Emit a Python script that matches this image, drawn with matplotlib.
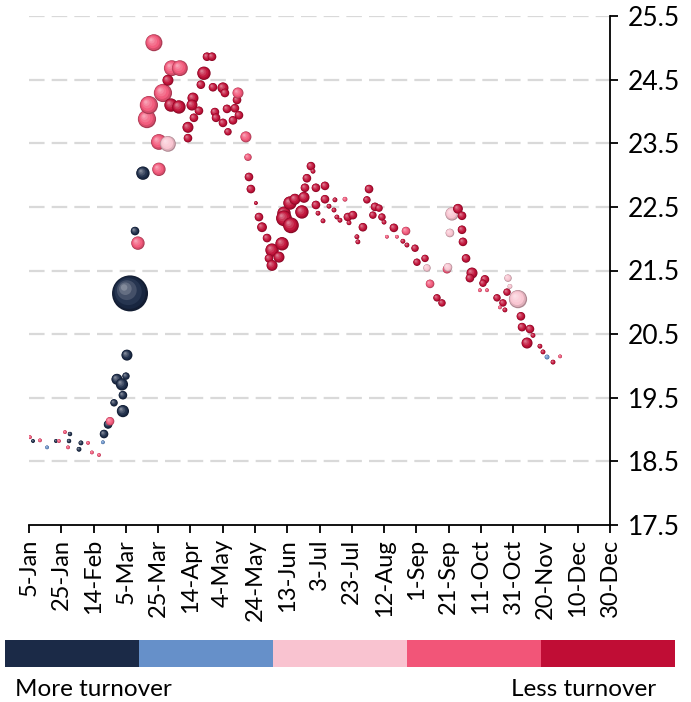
import numpy as np
import matplotlib
matplotlib.use("Agg")
import matplotlib.pyplot as plt
from matplotlib.colors import to_rgb
from matplotlib.patches import Rectangle

# day of year (2020), price level, bubble radius (px), turnover bucket (0 = most ... 4 = least)
days = [5.6, 7.5, 11.8, 16.2, 21.7, 23.6, 27.3, 30.4, 29.8, 29.2, 37.2, 36.0, 41.6, 44.0, 48.4,
        50.8, 51.5, 54.0, 55.2, 57.7, 59.5, 62.6, 63.2, 63.2, 65.1, 65.7, 67.6, 70.7, 72.5, 75.6,
        85.5, 85.5, 91.1, 78.1, 79.3, 82.4, 88.0, 93.5, 98.5, 91.1, 93.0, 97.9, 103.5, 103.5, 106.6,
        106.0, 107.2, 110.3, 111.5, 113.4, 115.3, 118.4, 119.0, 120.2, 120.9, 125.2, 126.4, 125.2, 127.7, 128.3,
        131.4, 132.6, 133.9, 134.5, 135.1, 139.4, 140.7, 141.3, 142.5, 145.6, 147.5, 149.4, 152.5, 155.6, 153.7,
        155.6, 159.9, 161.8, 163.0, 163.0, 167.3, 166.7, 169.8, 174.1, 175.4, 176.0, 177.2, 179.7, 181.0, 182.8,
        182.8, 184.1, 187.2, 188.4, 188.4, 190.9, 194.6, 200.8, 194.0, 195.8, 197.7, 202.6, 205.7, 203.3, 208.2,
        208.8, 211.9, 215.7, 214.4, 219.4, 221.9, 218.1, 223.7, 225.0, 226.8, 231.1, 233.0, 238.6, 236.7, 239.2,
        244.2, 245.4, 250.4, 251.6, 253.5, 257.8, 260.9, 264.0, 264.6, 267.1, 270.8, 273.3, 265.8, 273.3, 273.9,
        275.8, 279.5, 278.2, 287.5, 286.3, 284.4, 288.8, 295.0, 298.7, 296.8, 299.9, 301.8, 303.0, 301.2, 308.0,
        309.8, 310.5, 315.4, 317.3, 313.6, 321.6, 323.5, 326.0, 329.7, 334.1]
values = [18.88, 18.82, 18.83, 18.72, 18.82, 18.82, 18.96, 18.93, 18.82, 18.72, 18.79, 18.69, 18.79, 18.64, 18.60,
          18.80, 18.93, 19.08, 19.13, 19.42, 19.79, 19.71, 19.29, 19.54, 19.84, 20.17, 21.14, 22.12, 21.93, 23.03,
          23.09, 23.52, 23.49, 23.88, 24.10, 25.08, 24.29, 24.68, 24.68, 24.49, 24.10, 24.07, 23.75, 23.58, 24.21,
          24.10, 23.90, 24.01, 24.42, 24.60, 24.86, 24.86, 24.38, 23.99, 23.90, 24.37, 24.29, 23.82, 24.04, 23.68,
          23.86, 24.05, 24.18, 24.29, 23.94, 23.60, 23.28, 22.97, 22.78, 22.56, 22.34, 22.18, 22.01, 21.82, 21.69,
          21.58, 21.71, 21.92, 22.40, 22.32, 22.21, 22.56, 22.62, 22.42, 22.65, 22.80, 22.95, 23.14, 23.06, 22.80,
          22.53, 22.40, 22.28, 22.83, 22.62, 22.51, 22.61, 22.62, 22.45, 22.34, 22.29, 22.34, 22.37, 22.25, 22.03,
          21.95, 22.18, 22.78, 22.61, 22.50, 22.48, 22.37, 22.34, 22.26, 22.03, 22.17, 22.03, 22.12, 21.96, 21.90,
          21.85, 21.63, 21.69, 21.54, 21.29, 21.07, 20.99, 21.52, 21.55, 22.39, 22.47, 22.36, 22.09, 22.14, 21.95,
          21.69, 21.46, 21.38, 21.36, 21.30, 21.19, 21.19, 21.07, 20.99, 20.92, 20.88, 21.38, 21.25, 21.16, 21.05,
          20.78, 20.61, 20.58, 20.48, 20.36, 20.31, 20.22, 20.14, 20.06, 20.15]
radius = [1.5, 1.5, 1.5, 1.5, 1.5, 1.5, 1.5, 1.8, 1.8, 1.5, 2, 2, 1.5, 1.5, 1.5,
          1.5, 3, 3, 3, 2.5, 4, 4.5, 4.5, 3, 2.5, 4, 18, 3, 5, 5,
          5, 6, 6, 7, 7, 6.5, 7, 6, 6, 4, 5, 5, 4, 3, 4,
          4, 3, 3, 3, 5, 3, 3, 3, 3, 3, 4, 3, 3, 3, 2.5,
          3, 3, 3, 4, 3, 4, 2.5, 3, 3, 1.5, 3, 3.5, 3, 5, 3,
          4, 4, 5, 5, 6, 6, 5, 4, 5, 4, 3, 3, 3, 2, 3,
          3, 2, 2, 3, 3, 2, 2, 2, 2, 2, 2, 3, 3, 2, 2,
          2, 3, 3, 2.5, 3, 2.5, 2.5, 2.5, 2, 1.5, 3, 1.5, 3, 2, 2,
          2.5, 2.5, 2.5, 2.5, 3, 2.5, 2.5, 3, 3, 5, 3.5, 3, 3, 3, 3,
          3, 4, 3, 3, 2.5, 1.5, 1.5, 2.5, 2.5, 1.5, 2, 2.5, 2, 2.5, 7,
          3, 3, 3, 2, 4, 2, 2, 2, 2, 1.5]
bucket = [3, 0, 3, 1, 0, 3, 3, 0, 0, 3, 0, 0, 3, 3, 3,
          1, 0, 0, 3, 0, 0, 0, 0, 0, 0, 0, 0, 0, 3, 0,
          3, 3, 2, 3, 3, 3, 3, 3, 3, 4, 4, 4, 4, 4, 4,
          4, 4, 4, 4, 4, 4, 4, 4, 4, 4, 4, 4, 4, 4, 4,
          4, 4, 4, 3, 4, 3, 3, 4, 4, 4, 4, 4, 4, 4, 4,
          4, 4, 4, 4, 4, 4, 4, 4, 4, 4, 4, 4, 4, 4, 4,
          4, 4, 4, 4, 4, 4, 4, 3, 4, 4, 4, 4, 4, 4, 4,
          4, 4, 4, 4, 4, 4, 4, 4, 4, 3, 4, 3, 3, 4, 4,
          4, 4, 4, 2, 3, 4, 4, 3, 2, 2, 4, 4, 2, 4, 4,
          4, 4, 4, 4, 4, 3, 3, 4, 4, 3, 4, 2, 2, 4, 2,
          4, 4, 4, 4, 4, 4, 4, 1, 4, 3]

tick_labels = ["5-Jan", "25-Jan", "14-Feb", "5-Mar", "25-Mar", "14-Apr", "4-May", "24-May",
               "13-Jun", "3-Jul", "23-Jul", "12-Aug", "1-Sep", "21-Sep", "11-Oct", "31-Oct",
               "20-Nov", "10-Dec", "30-Dec"]
y_ticks = [17.5, 18.5, 19.5, 20.5, 21.5, 22.5, 23.5, 24.5, 25.5]
bucket_colors = ["#1B2A47", "#6690C9", "#F9C3D0", "#F25578", "#C00D35"]

plt.rcParams["font.family"] = ["Lato", "DejaVu Sans"]

W, H = 691, 702
fig = plt.figure(figsize=(W / 100, H / 100), dpi=100)
ax = fig.add_axes([29 / W, 1 - 525 / H, 581 / W, 509 / H])

x_ticks = [5 + 20 * k for k in range(len(tick_labels))]
ax.set_xlim(x_ticks[0], x_ticks[-1])
ax.set_ylim(y_ticks[0], y_ticks[-1])

# gridlines
for yv in y_ticks[1:]:
    ax.axhline(yv, color="#D9D9D9", lw=1.6, dashes=(7, 3.2), zorder=1)

# pixels per data unit, used for the sphere highlight offsets
px_x = 581 / (x_ticks[-1] - x_ticks[0])
px_y = 509 / (y_ticks[-1] - y_ticks[0])


def shade(c, t):
    c = np.array(to_rgb(c))
    if t < 0:
        return tuple(c * (1 + t))
    return tuple(c + (1 - c) * t)


layers = [(1.0, -0.3), (0.9, -0.1), (0.75, 0.05), (0.55, 0.18), (0.35, 0.32), (0.18, 0.45)]

for d, v, r, b in zip(days, values, radius, bucket):
    col = bucket_colors[b]
    if r >= 10:
        rr = r
    elif r >= 2.5:
        rr = r * 1.2 + 0.7
    else:
        rr = r + 0.4
    xs, ys, ss, cs = [], [], [], []
    for f, t in layers:
        off = (1 - f) * 0.4 * rr
        xs.append(d - off / px_x)
        ys.append(v + off / px_y)
        ss.append((2 * rr * f * 0.72) ** 2)
        cs.append(shade(col, t))
    ax.scatter(xs, ys, s=ss, c=cs, linewidths=0, zorder=3)

# axes styling
for side in ["left", "top"]:
    ax.spines[side].set_visible(False)
ax.spines["bottom"].set_linewidth(1.3)
ax.spines["right"].set_linewidth(1.3)
ax.yaxis.tick_right()
ax.set_yticks(y_ticks)
ax.set_yticklabels([f"{t:.1f}" for t in y_ticks], fontsize=19)
ax.set_xticks(x_ticks)
ax.set_xticklabels(tick_labels, rotation=90, fontsize=17)
ax.tick_params(axis="both", direction="out", length=6, width=1.3, color="black")
ax.tick_params(axis="y", pad=7)
ax.tick_params(axis="x", pad=4)

# turnover colour key
kax = fig.add_axes([5 / W, 1 - 667 / H, 670 / W, 27 / H])
for i, c in enumerate(bucket_colors):
    kax.add_patch(Rectangle((i, 0), 1, 1, facecolor=c, edgecolor="none"))
kax.set_xlim(0, len(bucket_colors))
kax.set_ylim(0, 1)
kax.axis("off")

fig.text(15 / W, 1 - 689 / H, "More turnover", fontsize=17.5, ha="left", va="center")
fig.text(656 / W, 1 - 689 / H, "Less turnover", fontsize=17.5, ha="right", va="center")

fig.savefig("out.png", dpi=100)
